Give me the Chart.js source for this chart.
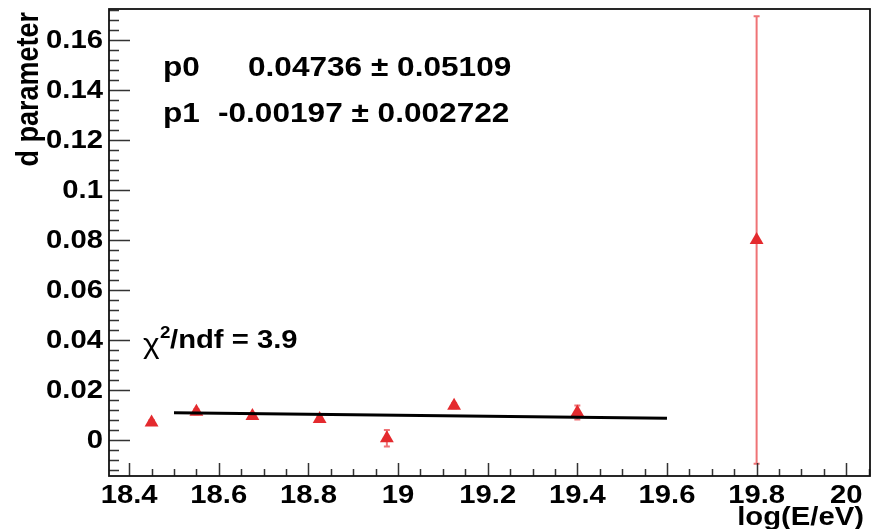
<!DOCTYPE html>
<html>
<head>
<meta charset="utf-8">
<script src="https://cdn.jsdelivr.net/npm/chart.js@4.4.1/dist/chart.umd.min.js"></script>
<style>
  html, body { margin: 0; padding: 0; background: #fff; }
  canvas { display: block; }
</style>
</head>
<body>
<canvas id="grafico" width="878" height="529"></canvas>
<script>
// dati: log(E/eV) e parametro d
var energie = [18.45, 18.55, 18.675, 18.825, 18.975, 19.125, 19.4, 19.8];
var valori_d = [0.007, 0.0113, 0.0096, 0.0084, 0.0007, 0.0137, 0.011, 0.08];
var errori_d = [0.001, 0.001, 0.001, 0.001, 0.0033, 0.001, 0.0028, 0.0895];

// risultato del fit lineare (p0 + p1*x)
var p0 = 0.04736;
var p0_err = 0.05109;
var p1 = -0.00197;
var p1_err = 0.002722;
var chi2_ndf = 3.9;
var intervallo_fit = [18.5, 19.6];

// etichette degli assi
var tick_x = [18.4, 18.6, 18.8, 19, 19.2, 19.4, 19.6, 19.8, 20];
var tick_y = [0, 0.02, 0.04, 0.06, 0.08, 0.1, 0.12, 0.14, 0.16];
var limiti_x = [18.355, 20.053];
var limiti_y = [-0.0144, 0.1724];

var FONT = '"Liberation Sans", Arial, Helvetica, sans-serif';
var ALLARGA = 1.17; // il font dell'originale e' piu' largo

// punti del grafico
var punti = [];
for (var i = 0; i < energie.length; i++) {
  punti.push({ x: energie[i], y: valori_d[i] });
}
// retta del fit
var retta = [];
for (var i = 0; i < intervallo_fit.length; i++) {
  retta.push({ x: intervallo_fit[i], y: p0 + p1 * intervallo_fit[i] });
}

function formato(v) {
  return parseFloat(v.toFixed(3)).toString();
}

function scrivi(ctx, testo, x, y, allineamento, font) {
  ctx.save();
  ctx.translate(x, y);
  ctx.scale(ALLARGA, 1);
  ctx.font = font;
  ctx.textAlign = allineamento;
  ctx.fillStyle = '#000';
  ctx.fillText(testo, 0, 0);
  ctx.restore();
}

// barre di errore sotto i marker
var barre_errore = {
  id: 'barre_errore',
  beforeDatasetsDraw: function(chart) {
    var ctx = chart.ctx;
    var sx = chart.scales.x;
    var sy = chart.scales.y;
    ctx.save();
    ctx.strokeStyle = '#ef7376';
    ctx.lineWidth = 2;
    for (var i = 0; i < energie.length; i++) {
      var px = sx.getPixelForValue(energie[i]);
      var alto = sy.getPixelForValue(valori_d[i] + errori_d[i]);
      var basso = sy.getPixelForValue(valori_d[i] - errori_d[i]);
      ctx.beginPath();
      ctx.moveTo(px, alto);
      ctx.lineTo(px, basso);
      ctx.moveTo(px - 3, alto);
      ctx.lineTo(px + 3, alto);
      ctx.moveTo(px - 3, basso);
      ctx.lineTo(px + 3, basso);
      ctx.stroke();
    }
    ctx.restore();
  }
};

// cornice, tacche e testi in stile ROOT
var assi_root = {
  id: 'assi_root',
  afterDraw: function(chart) {
    var ctx = chart.ctx;
    var area = chart.chartArea;
    var sx = chart.scales.x;
    var sy = chart.scales.y;
    ctx.save();

    // tacche asse y
    ctx.strokeStyle = '#333';
    ctx.lineWidth = 1.5;
    ctx.beginPath();
    for (var k = -3; k <= 43; k++) {
      var v = k * 0.004;
      if (v < limiti_y[0] || v > limiti_y[1]) continue;
      var py = Math.round(sy.getPixelForValue(v)) + 0.5;
      var lung = (k % 5 === 0) ? 21 : 10;
      ctx.moveTo(area.left, py);
      ctx.lineTo(area.left + lung, py);
    }
    // tacche asse x
    for (var k = 0; k <= 34; k++) {
      var v = 18.4 + k * 0.05;
      if (v > limiti_x[1]) continue;
      var px = Math.round(sx.getPixelForValue(v)) + 0.5;
      var lung = (k % 4 === 0) ? 13 : 7;
      ctx.moveTo(px, area.bottom);
      ctx.lineTo(px, area.bottom - lung);
    }
    ctx.stroke();

    // cornice
    ctx.strokeStyle = '#111';
    ctx.lineWidth = 1.8;
    ctx.strokeRect(area.left, area.top, area.right - area.left, area.bottom - area.top);

    // etichette
    var font_tick = 'bold 25px ' + FONT;
    var font_fit = 'bold 27px ' + FONT;
    ctx.textBaseline = 'middle';
    for (var i = 0; i < tick_y.length; i++) {
      scrivi(ctx, formato(tick_y[i]), 103, sy.getPixelForValue(tick_y[i]) + 1, 'right', font_tick);
    }
    ctx.textBaseline = 'alphabetic';
    for (var i = 0; i < tick_x.length; i++) {
      scrivi(ctx, formato(tick_x[i]), sx.getPixelForValue(tick_x[i]), 503, 'center', font_tick);
    }

    // titoli assi
    scrivi(ctx, 'log(E/eV)', 864, 525, 'right', font_tick);
    ctx.save();
    ctx.translate(38, 12);
    ctx.scale(ALLARGA, 1);
    ctx.rotate(-Math.PI / 2);
    ctx.font = 'bold 27px ' + FONT;
    ctx.textAlign = 'right';
    ctx.fillStyle = '#000';
    ctx.fillText('d parameter', 0, 0);
    ctx.restore();

    // riquadro parametri del fit
    scrivi(ctx, 'p0', 163, 76, 'left', font_fit);
    scrivi(ctx, p0 + ' \u00b1 ' + p0_err, 248, 76, 'left', font_fit);
    scrivi(ctx, 'p1', 163, 122, 'left', font_fit);
    scrivi(ctx, p1 + ' \u00b1 ' + p1_err, 218, 122, 'left', font_fit);

    // chi quadro
    scrivi(ctx, '\u03c7', 143, 353, 'left', '27px ' + FONT);
    scrivi(ctx, '2', 160, 338, 'left', 'bold 16px ' + FONT);
    scrivi(ctx, '/ndf = ' + chi2_ndf, 170, 348, 'left', font_tick);

    ctx.restore();
  }
};

var ctx = document.getElementById('grafico').getContext('2d');
var chart = new Chart(ctx, {
  type: 'scatter',
  data: {
    datasets: [{
      label: 'fit',
      type: 'line',
      data: retta,
      borderColor: '#000',
      borderWidth: 3,
      pointRadius: 0,
      fill: false,
      order: 0
    }, {
      label: 'd',
      data: punti,
      pointStyle: 'triangle',
      pointRadius: 8,
      pointHoverRadius: 8,
      backgroundColor: '#e42a2e',
      borderColor: '#e42a2e',
      borderWidth: 0,
      order: 1
    }]
  },
  options: {
    responsive: false,
    animation: false,
    devicePixelRatio: 1,
    layout: { padding: { top: 9, right: 6, left: 0, bottom: 0 } },
    plugins: {
      legend: { display: false },
      tooltip: { enabled: false }
    },
    scales: {
      x: {
        type: 'linear',
        min: limiti_x[0],
        max: limiti_x[1],
        grid: { display: false },
        border: { display: false },
        ticks: { display: false },
        afterFit: function(scale) { scale.height = 53; }
      },
      y: {
        type: 'linear',
        min: limiti_y[0],
        max: limiti_y[1],
        grid: { display: false },
        border: { display: false },
        ticks: { display: false },
        afterFit: function(scale) { scale.width = 109; }
      }
    }
  },
  plugins: [barre_errore, assi_root]
});
</script>
</body>
</html>
